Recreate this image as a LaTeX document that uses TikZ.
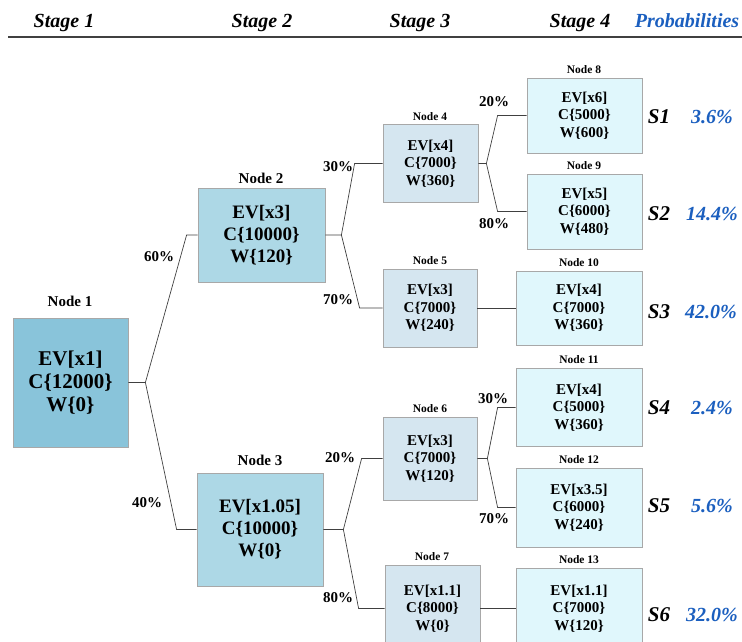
\documentclass[tikz,border=0pt]{standalone}
\usepackage{fontspec}
\setmainfont{Liberation Serif}
\definecolor{rootfill}{HTML}{89C4DA}
\definecolor{midfill}{HTML}{ADD8E6}
\definecolor{thirdfill}{HTML}{D5E6F0}
\definecolor{leaffill}{HTML}{E0F7FC}
\definecolor{boxline}{HTML}{A8A8A8}
\definecolor{linkgray}{HTML}{404040}
\definecolor{probblue}{HTML}{1B5FBF}
\begin{document}
\begin{tikzpicture}[x=1pt,y=-1pt,
  box/.style={draw=boxline, line width=0.8pt, align=center, inner sep=0pt, anchor=center},
  roottxt/.style={font=\bfseries\fontsize{21}{23}\selectfont},
  bigtxt/.style={font=\bfseries\fontsize{19}{22}\selectfont},
  smalltxt/.style={font=\bfseries\fontsize{15}{17.5}\selectfont},
  biglbl/.style={font=\bfseries\fontsize{15}{18}\selectfont, inner sep=0pt},
  smalllbl/.style={font=\bfseries\fontsize{11.5}{14}\selectfont, inner sep=0pt},
  pct/.style={font=\bfseries\fontsize{15}{18}\selectfont, inner sep=0pt},
  head/.style={font=\bfseries\itshape\fontsize{20}{24}\selectfont, inner sep=0pt, anchor=base},
  scen/.style={font=\bfseries\itshape\fontsize{21}{24}\selectfont, inner sep=0pt},
  prob/.style={font=\bfseries\itshape\fontsize{20}{24}\selectfont, text=probblue, inner sep=0pt},
  conn/.style={draw=linkgray, line width=0.7pt}
]
\useasboundingbox (0,0) rectangle (742,642);
\clip (0,0) rectangle (742,642);

% header row
\node[head] (h1) at (64,28) {Stage 1};
\node[head] (h2) at (262,28) {Stage 2};
\node[head] (h3) at (420,28) {Stage 3};
\node[head] (h4) at (580,28) {Stage 4};
\node[head, text=probblue] (h5) at (687,28) {Probabilities};
\draw[draw=linkgray, line width=1.2pt] (8,37) -- (742,37);

% stage 1
\node[box, roottxt, fill=rootfill, minimum width=115pt, minimum height=129pt] (n1) at (70.5,382.5) {EV[x1]\\C\{12000\}\\W\{0\}};
\node[biglbl] (t1) at (70,301) {Node 1};

% stage 2
\node[box, bigtxt, fill=midfill, minimum width=127pt, minimum height=94pt] (n2) at (261.5,235) {EV[x3]\\C\{10000\}\\W\{120\}};
\node[biglbl] (t2) at (261,178) {Node 2};
\node[box, bigtxt, fill=midfill, minimum width=126pt, minimum height=113pt] (n3) at (260,529.5) {EV[x1.05]\\C\{10000\}\\W\{0\}};
\node[biglbl] (t3) at (260,460) {Node 3};

% stage 3
\node[box, smalltxt, fill=thirdfill, minimum width=95pt, minimum height=78pt] (n4) at (430.5,163.5) {EV[x4]\\C\{7000\}\\W\{360\}};
\node[smalllbl] (t4) at (430,117) {Node 4};
\node[box, smalltxt, fill=thirdfill, minimum width=94pt, minimum height=78pt] (n5) at (430,308) {EV[x3]\\C\{7000\}\\W\{240\}};
\node[smalllbl] (t5) at (430,261) {Node 5};
\node[box, smalltxt, fill=thirdfill, minimum width=94pt, minimum height=83pt] (n6) at (430,458.5) {EV[x3]\\C\{7000\}\\W\{120\}};
\node[smalllbl] (t6) at (430,409) {Node 6};
\node[box, smalltxt, fill=thirdfill, minimum width=95pt, minimum height=86pt] (n7) at (432.5,608.5) {EV[x1.1]\\C\{8000\}\\W\{0\}};
\node[smalllbl] (t7) at (432,557) {Node 7};

% stage 4
\node[box, smalltxt, fill=leaffill, minimum width=115pt, minimum height=75pt] (n8) at (584.5,115.5) {EV[x6]\\C\{5000\}\\W\{600\}};
\node[smalllbl] (t8) at (584,70) {Node 8};
\node[box, smalltxt, fill=leaffill, minimum width=115pt, minimum height=75pt] (n9) at (584.5,211.5) {EV[x5]\\C\{6000\}\\W\{480\}};
\node[smalllbl] (t9) at (584,166) {Node 9};
\node[box, smalltxt, fill=leaffill, minimum width=126pt, minimum height=74pt] (n10) at (579,308) {EV[x4]\\C\{7000\}\\W\{360\}};
\node[smalllbl] (t10) at (579,263) {Node 10};
\node[box, smalltxt, fill=leaffill, minimum width=126pt, minimum height=78pt] (n11) at (579,407.5) {EV[x4]\\C\{5000\}\\W\{360\}};
\node[smalllbl] (t11) at (579,360) {Node 11};
\node[box, smalltxt, fill=leaffill, minimum width=126pt, minimum height=79pt] (n12) at (579,507.5) {EV[x3.5]\\C\{6000\}\\W\{240\}};
\node[smalllbl] (t12) at (579,460) {Node 12};
\node[box, smalltxt, fill=leaffill, minimum width=126pt, minimum height=81pt] (n13) at (579,608.5) {EV[x1.1]\\C\{7000\}\\W\{120\}};
\node[smalllbl] (t13) at (579,560) {Node 13};

% branches
\draw[conn] (n1.east) -- ++(17,0) coordinate (j1) -- ([xshift=-11pt]n2.west) -- (n2.west);
\draw[conn] (j1) -- ([xshift=-20pt]n3.west) -- (n3.west);
\draw[conn] (n2.east) -- ++(16,0) coordinate (j2) -- ([xshift=-28pt]n4.west) -- (n4.west);
\draw[conn] (j2) -- ([xshift=-23pt]n5.west) -- (n5.west);
\draw[conn] (n3.east) -- ++(20,0) coordinate (j3) -- ([xshift=-21pt]n6.west) -- (n6.west);
\draw[conn] (j3) -- ([xshift=-26pt]n7.west) -- (n7.west);
\draw[conn] (n4.east) -- ++(8,0) coordinate (j4) -- ([xshift=-29pt]n8.west) -- (n8.west);
\draw[conn] (j4) -- ([xshift=-29pt]n9.west) -- (n9.west);
\draw[conn] (n5.east) -- (n10.west);
\draw[conn] (n6.east) -- ++(10,0) coordinate (j6) -- ([xshift=-18pt]n11.west) -- (n11.west);
\draw[conn] (j6) -- ([xshift=-18pt]n12.west) -- (n12.west);
\draw[conn] (n7.east) -- (n13.west);

% branch probabilities
\node[pct] (p12) at (159,257) {60\%};
\node[pct] (p13) at (147,503) {40\%};
\node[pct] (p24) at (338,167) {30\%};
\node[pct] (p25) at (338,300) {70\%};
\node[pct] (p36) at (340,458) {20\%};
\node[pct] (p37) at (338,598) {80\%};
\node[pct] (p48) at (494,102) {20\%};
\node[pct] (p49) at (494,224) {80\%};
\node[pct] (p611) at (493,399) {30\%};
\node[pct] (p612) at (494,519) {70\%};

% scenarios and their probabilities
\node[scen] (s1) at (659,117) {S1};
\node[scen] (s2) at (659,214) {S2};
\node[scen] (s3) at (659,312) {S3};
\node[scen] (s4) at (659,408) {S4};
\node[scen] (s5) at (659,506) {S5};
\node[scen] (s6) at (659,615) {S6};
\node[prob] (q1) at (712,117) {3.6\%};
\node[prob] (q2) at (712,214) {14.4\%};
\node[prob] (q3) at (711,312) {42.0\%};
\node[prob] (q4) at (712,408) {2.4\%};
\node[prob] (q5) at (712,506) {5.6\%};
\node[prob] (q6) at (712,615) {32.0\%};
\end{tikzpicture}
\end{document}
